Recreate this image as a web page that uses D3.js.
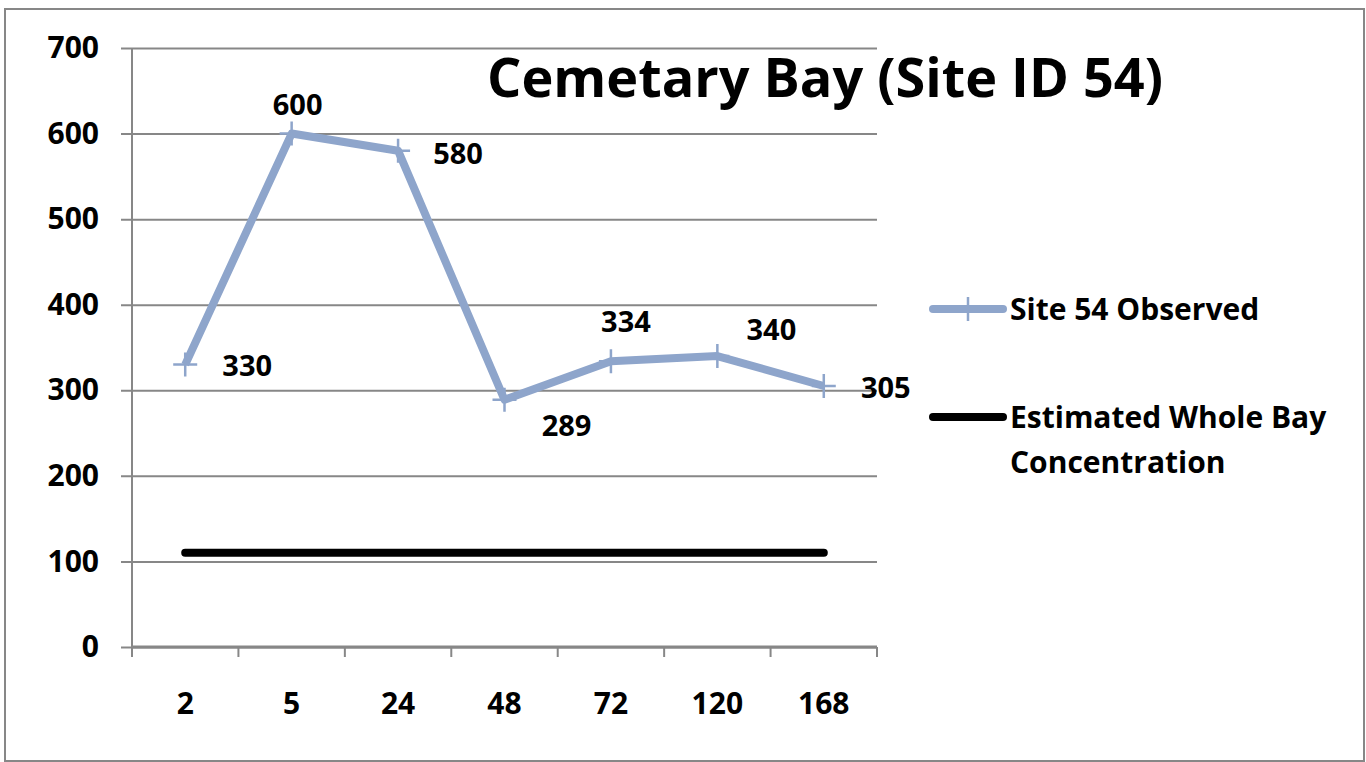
<!DOCTYPE html>
<meta charset="utf-8">
<style>
  body { margin: 0; background: #fff; }
  text { font-family: "Open Sans", "Noto Sans", sans-serif; font-weight: 700; fill: #000; }
</style>

<!-- Load d3.js -->
<script src="https://d3js.org/d3.v7.min.js"></script>

<div id="my_dataviz"></div>

<script>

// data
var hours = ["2", "5", "24", "48", "72", "120", "168"];
var observed = [330, 600, 580, 289, 334, 340, 305];
var wholeBay = [110, 110, 110, 110, 110, 110, 110];
var yTicks = [0, 100, 200, 300, 400, 500, 600, 700];
var seriesNames = ["Site 54 Observed", "Estimated Whole Bay Concentration"];

// where each data label sits relative to its point (dx, dy of text center)
var labelOffset = [[62, 1], [6, -29], [60, 3], [62, 26], [15, -39], [54, -26], [62, 2]];

var W = 1366, H = 762;
var margin = {top: 48, right: 489, bottom: 115, left: 132},
    width = W - margin.left - margin.right,
    height = H - margin.top - margin.bottom;

var blue = "#8ea5cb", grid = "#878787";

var svg = d3.select("#my_dataviz")
  .append("svg")
    .attr("width", W)
    .attr("height", H);

// outer frame
svg.append("rect")
  .attr("x", 5).attr("y", 9)
  .attr("width", 1359).attr("height", 752)
  .attr("fill", "none")
  .attr("stroke", grid)
  .attr("stroke-width", 2);

var g = svg.append("g")
  .attr("transform", "translate(" + margin.left + "," + margin.top + ")");

// scales
var x = d3.scaleBand()
  .range([0, width])
  .domain(hours);

var y = d3.scaleLinear()
  .domain([0, 700])
  .range([height, 0]);

var cx = function(d, i) { return x(hours[i]) + x.bandwidth() / 2; };

// Y axis with gridlines
var yAxis = g.append("g")
  .call(d3.axisLeft(y).tickValues(yTicks).tickSize(-width - 11).tickPadding(22))
  .attr("transform", "translate(-11,0)");
yAxis.select(".domain").remove();
yAxis.selectAll(".tick line")
  .attr("x1", 0)
  .attr("x2", width + 11)
  .attr("stroke", grid)
  .attr("stroke-width", 2);
yAxis.selectAll(".tick text")
  .attr("x", -22)
  .style("font-size", "30px")
  .style("font-family", "'Open Sans', sans-serif")
  .style("font-weight", 700)
  .attr("fill", "#000");

// vertical axis line
g.append("line")
  .attr("x1", 0).attr("x2", 0)
  .attr("y1", 0).attr("y2", height)
  .attr("stroke", grid)
  .attr("stroke-width", 2);

// X axis: ticks between categories
var xAxis = g.append("g")
  .attr("transform", "translate(0," + height + ")");
xAxis.append("line")
  .attr("x1", 0).attr("x2", width)
  .attr("stroke", grid).attr("stroke-width", 3);
xAxis.selectAll(".sep")
  .data(hours.concat(["end"]))
  .enter().append("line")
    .attr("x1", function(d, i) { return i * x.step(); })
    .attr("x2", function(d, i) { return i * x.step(); })
    .attr("y1", 0).attr("y2", 10)
    .attr("stroke", grid).attr("stroke-width", 2);
xAxis.selectAll(".lab")
  .data(hours)
  .enter().append("text")
    .attr("x", function(d) { return x(d) + x.bandwidth() / 2; })
    .attr("y", 56)
    .attr("dy", "0.35em")
    .attr("text-anchor", "middle")
    .style("font-size", "30px")
    .text(function(d) { return d; });

// whole bay line
var line = d3.line()
  .x(cx)
  .y(function(d) { return y(d); });

g.append("path")
  .datum(wholeBay)
  .attr("d", line)
  .attr("fill", "none")
  .attr("stroke", "#000")
  .attr("stroke-width", 8)
  .attr("stroke-linecap", "round");

// observed line
g.append("path")
  .datum(observed)
  .attr("d", line)
  .attr("fill", "none")
  .attr("stroke", blue)
  .attr("stroke-width", 8)
  .attr("stroke-linejoin", "round");

// plus markers
var marks = g.selectAll(".mk")
  .data(observed)
  .enter().append("g")
    .attr("transform", function(d, i) { return "translate(" + cx(d, i) + "," + y(d) + ")"; });
marks.append("path")
  .attr("d", "M-12,0H12M0,-12V12")
  .attr("stroke", blue)
  .attr("stroke-width", 2.5);

// data labels
g.selectAll(".dl")
  .data(observed)
  .enter().append("text")
    .attr("x", function(d, i) { return cx(d, i) + labelOffset[i][0]; })
    .attr("y", function(d, i) { return y(d) + labelOffset[i][1]; })
    .attr("dy", "0.35em")
    .attr("text-anchor", "middle")
    .style("font-size", "29px")
    .text(function(d) { return d; });

// title
svg.append("text")
  .attr("x", 825)
  .attr("y", 78)
  .attr("dy", "0.35em")
  .attr("text-anchor", "middle")
  .style("font-size", "54px")
  .text("Cemetary Bay (Site ID 54)");

// legend
var leg = svg.append("g");
leg.append("line")
  .attr("x1", 933).attr("x2", 1003)
  .attr("y1", 309).attr("y2", 309)
  .attr("stroke", blue).attr("stroke-width", 8).attr("stroke-linecap", "round");
leg.append("path")
  .attr("d", "M968,297V321")
  .attr("stroke", blue).attr("stroke-width", 2.5);
leg.append("text")
  .attr("x", 1010).attr("y", 309).attr("dy", "0.35em")
  .style("font-size", "30px")
  .text(seriesNames[0]);

leg.append("line")
  .attr("x1", 933).attr("x2", 1003)
  .attr("y1", 417).attr("y2", 417)
  .attr("stroke", "#000").attr("stroke-width", 8).attr("stroke-linecap", "round");
leg.append("text")
  .attr("x", 1010).attr("y", 417).attr("dy", "0.35em")
  .style("font-size", "30px")
  .text("Estimated Whole Bay");
leg.append("text")
  .attr("x", 1010).attr("y", 462).attr("dy", "0.35em")
  .style("font-size", "30px")
  .text("Concentration");

</script>
